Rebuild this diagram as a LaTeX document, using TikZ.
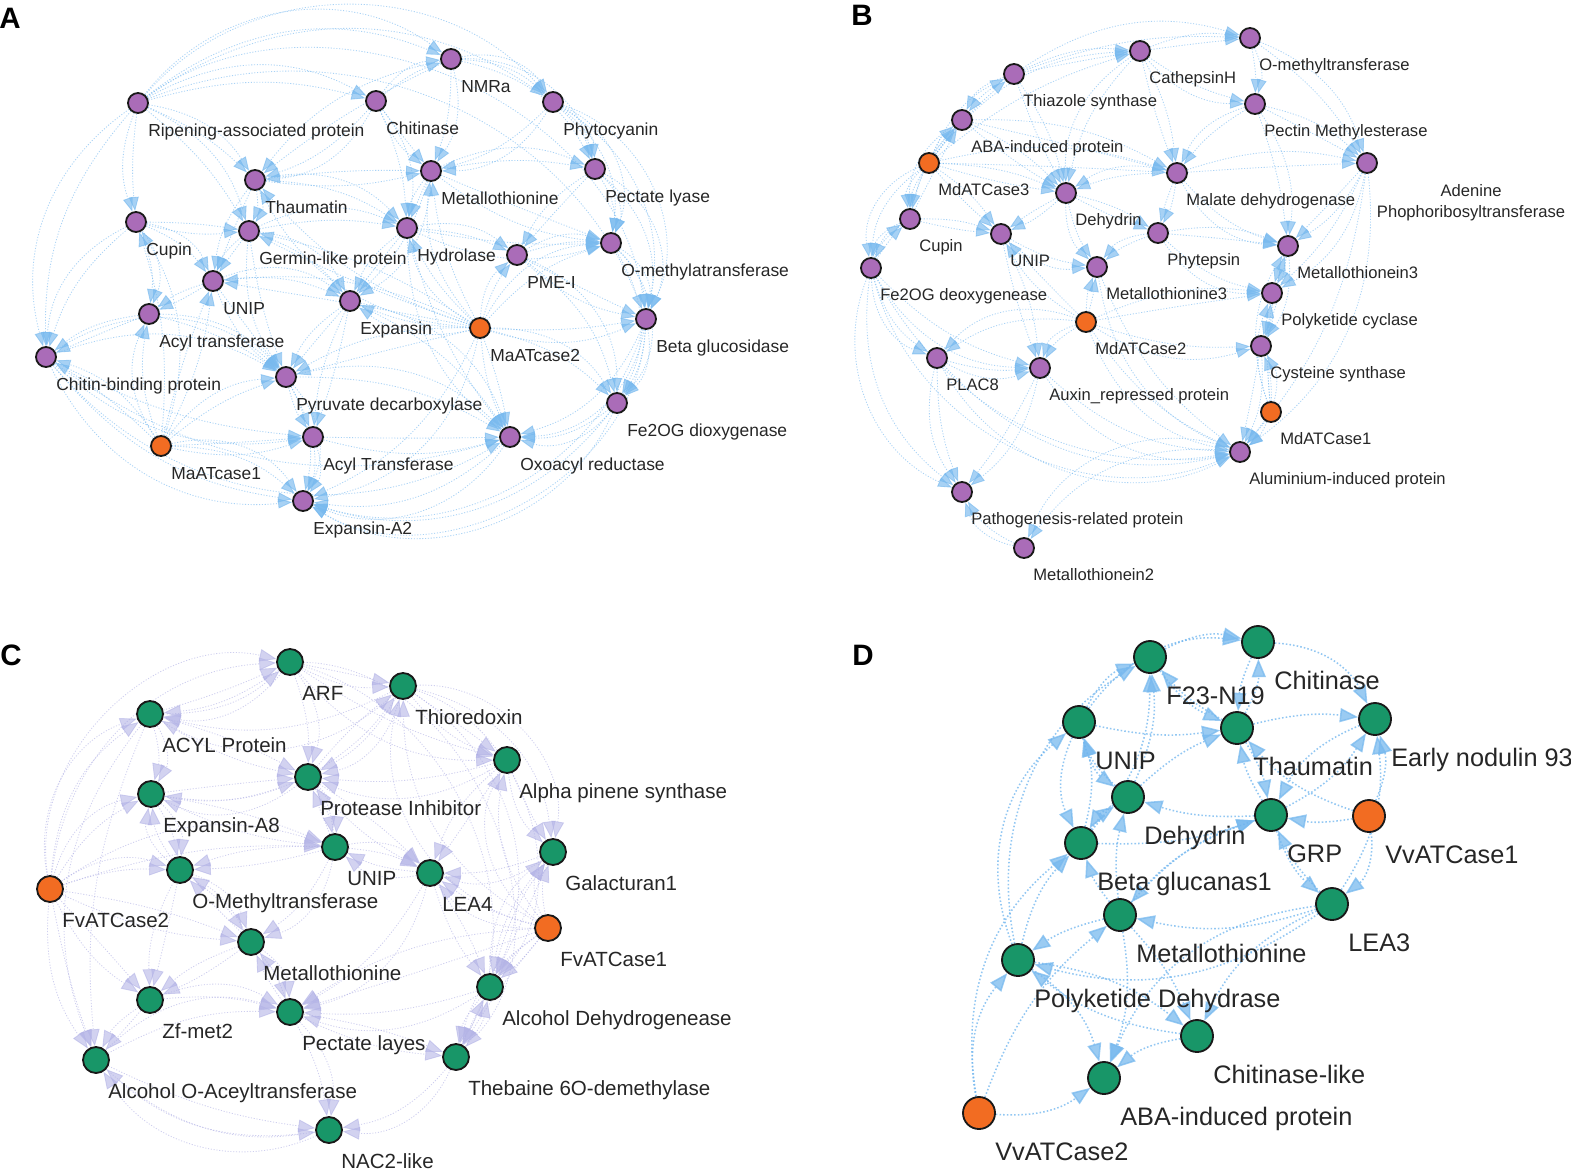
\documentclass[tikz,border=0pt]{standalone}
\usepackage{fontspec}
\setmainfont{Liberation Sans}
\usetikzlibrary{arrows.meta}
\definecolor{genepurple}{RGB}{170,108,184}
\definecolor{genegreen}{RGB}{24,150,104}
\definecolor{geneorange}{RGB}{242,108,34}
\definecolor{edgeblue}{RGB}{125,188,240}
\definecolor{tipblue}{RGB}{120,185,238}
\definecolor{edgelilac}{RGB}{175,175,228}
\definecolor{tiplilac}{RGB}{180,180,230}
\definecolor{edgeblueD}{RGB}{110,180,238}
\tikzset{
    gene/.style={circle, draw=black!90, line width=1.3pt, inner sep=0pt},
    geneA/.style={gene, minimum size=0.5cm, fill=genepurple},
    atA/.style={geneA, fill=geneorange},
    geneC/.style={gene, minimum size=0.65cm, fill=genegreen},
    atC/.style={geneC, fill=geneorange},
    geneD/.style={gene, minimum size=0.8cm, fill=genegreen},
    atD/.style={geneD, fill=geneorange},
    lblA/.style={font=\fontsize{12.4}{14}\selectfont, text=black!85, inner sep=0pt, anchor=base west, xshift=0.25cm, yshift=-0.575cm},
    lblB/.style={font=\fontsize{11.8}{14.9}\selectfont, text=black!85, inner sep=0pt, anchor=base west, xshift=0.225cm, yshift=-0.55cm},
    lblBtwo/.style={font=\fontsize{11.8}{14.9}\selectfont, text=black!85, inner sep=0pt, anchor=north, align=center, xshift=2.6cm, yshift=-0.25cm},
    lblC/.style={font=\fontsize{14.6}{17}\selectfont, text=black!85, inner sep=0pt, anchor=base west, xshift=0.3cm, yshift=-0.625cm},
    lblD/.style={font=\fontsize{18}{21}\selectfont, text=black!85, inner sep=0pt, anchor=base west, xshift=0.4cm, yshift=-0.775cm},
    panel/.style={font=\fontsize{21}{21}\selectfont\bfseries, inner sep=0pt},
    edgeA/.style={draw=edgeblue, opacity=0.65, line width=0.6pt, dash pattern=on 0.8pt off 1.2pt, -{Triangle[width=7pt, length=10pt, color=tipblue]}},
    edgeC/.style={draw=edgelilac, opacity=0.6, line width=0.6pt, dash pattern=on 0.8pt off 1.2pt, -{Triangle[width=9pt, length=12pt, color=tiplilac]}},
    edgeD/.style={draw=edgeblueD, opacity=0.75, line width=1.1pt, dash pattern=on 1.1pt off 1.5pt, -{Triangle[width=10pt, length=13pt, color=tipblue]}}
}
\pgfdeclarelayer{edges}
\pgfsetlayers{edges,main}

\begin{document}
\begin{tikzpicture}[x=0.025cm, y=-0.025cm]
    \useasboundingbox (0,0) rectangle (1571,1172);

    % Panel A: banana network
    \node[panel] (pA) at (10,18) {A};
    \node[geneA, label={[lblA]below:Ripening-associated protein}] (A_rip) at (138,103) {};
    \node[geneA, label={[lblA]below:Chitinase}] (A_chit) at (376,101) {};
    \node[geneA, label={[lblA]below:NMRa}] (A_nmr) at (451,59) {};
    \node[geneA, label={[lblA]below:Phytocyanin}] (A_phyto) at (553,102) {};
    \node[geneA, label={[lblA]below:Thaumatin}] (A_thau) at (255,180) {};
    \node[geneA, label={[lblA]below:Metallothionine}] (A_metal) at (431,171) {};
    \node[geneA, label={[lblA]below:Pectate lyase}] (A_pect) at (595,169) {};
    \node[geneA, label={[lblA]below:Cupin}] (A_cupin) at (136,222) {};
    \node[geneA, label={[lblA]below:Germin-like protein}] (A_germ) at (249,231) {};
    \node[geneA, label={[lblA]below:Hydrolase}] (A_hydro) at (407,228) {};
    \node[geneA, label={[lblA]below:PME-I}] (A_pme) at (517,255) {};
    \node[geneA, label={[lblA]below:O-methylatransferase}] (A_omt) at (611,243) {};
    \node[geneA, label={[lblA]below:UNIP}] (A_unip) at (213,281) {};
    \node[geneA, label={[lblA]below:Acyl transferase}] (A_acyl) at (149,314) {};
    \node[geneA, label={[lblA]below:Expansin}] (A_exp) at (350,301) {};
    \node[atA, label={[lblA]below:MaATcase2}] (A_at2) at (480,328) {};
    \node[geneA, label={[lblA]below:Beta glucosidase}] (A_bglu) at (646,319) {};
    \node[geneA, label={[lblA]below:Chitin-binding protein}] (A_cbp) at (46,357) {};
    \node[geneA, label={[lblA]below:Pyruvate decarboxylase}] (A_pyr) at (286,377) {};
    \node[geneA, label={[lblA]below:Fe2OG dioxygenase}] (A_fe2og) at (617,403) {};
    \node[atA, label={[lblA]below:MaATcase1}] (A_at1) at (161,446) {};
    \node[geneA, label={[lblA]below:Acyl Transferase}] (A_acylT) at (313,437) {};
    \node[geneA, label={[lblA]below:Oxoacyl reductase}] (A_oxo) at (510,437) {};
    \node[geneA, label={[lblA]below:Expansin-A2}] (A_expA2) at (303,501) {};

    % Panel B: apple network
    \node[panel] (pB) at (862,15) {B};
    \node[geneA, label={[lblB]below:O-methyltransferase}] (B_omt) at (1250,38) {};
    \node[geneA, label={[lblB]below:CathepsinH}] (B_cath) at (1140,51) {};
    \node[geneA, label={[lblB]below:Thiazole synthase}] (B_thia) at (1014,74) {};
    \node[geneA, label={[lblB]below:Pectin Methylesterase}] (B_pme) at (1255,104) {};
    \node[geneA, label={[lblB]below:ABA-induced protein}] (B_aba) at (962,120) {};
    \node[geneA, label={[lblBtwo]below:Adenine\\Phophoribosyltransferase}] (B_apt) at (1367,163) {};
    \node[atA, label={[lblB]below:MdATCase3}] (B_at3) at (929,163) {};
    \node[geneA, label={[lblB]below:Malate dehydrogenase}] (B_mdh) at (1177,173) {};
    \node[geneA, label={[lblB]below:Dehydrin}] (B_dhn) at (1066,193) {};
    \node[geneA, label={[lblB]below:Cupin}] (B_cupin) at (910,219) {};
    \node[geneA, label={[lblB]below:UNIP}] (B_unip) at (1001,234) {};
    \node[geneA, label={[lblB]below:Phytepsin}] (B_phyt) at (1158,233) {};
    \node[geneA, label={[lblB]below:Metallothionein3}] (B_mt3) at (1288,246) {};
    \node[geneA, label={[lblB]below:Fe2OG deoxygenease}] (B_fe2og) at (871,268) {};
    \node[geneA, label={[lblB]below:Metallothionine3}] (B_mtn3) at (1097,267) {};
    \node[geneA, label={[lblB]below:Polyketide cyclase}] (B_pkc) at (1272,293) {};
    \node[atA, label={[lblB]below:MdATCase2}] (B_at2) at (1086,322) {};
    \node[geneA, label={[lblB]below:Cysteine synthase}] (B_cys) at (1261,346) {};
    \node[geneA, label={[lblB]below:PLAC8}] (B_plac) at (937,358) {};
    \node[geneA, label={[lblB]below:Auxin\_repressed protein}] (B_aux) at (1040,368) {};
    \node[atA, label={[lblB]below:MdATCase1}] (B_at1) at (1271,412) {};
    \node[geneA, label={[lblB]below:Aluminium-induced protein}] (B_alu) at (1240,452) {};
    \node[geneA, label={[lblB]below:Pathogenesis-related protein}] (B_path) at (962,492) {};
    \node[geneA, label={[lblB]below:Metallothionein2}] (B_mt2) at (1024,548) {};

    % Panel C: strawberry network
    \node[panel] (pC) at (11,655) {C};
    \node[geneC, label={[lblC]below:ARF}] (C_arf) at (290,662) {};
    \node[geneC, label={[lblC]below:Thioredoxin}] (C_thio) at (403,686) {};
    \node[geneC, label={[lblC]below:ACYL Protein}] (C_acyl) at (150,714) {};
    \node[geneC, label={[lblC]below:Alpha pinene synthase}] (C_aps) at (507,760) {};
    \node[geneC, label={[lblC]below:Protease Inhibitor}] (C_pi) at (308,777) {};
    \node[geneC, label={[lblC]below:Expansin-A8}] (C_expA8) at (151,794) {};
    \node[geneC, label={[lblC]below:UNIP}] (C_unip) at (335,847) {};
    \node[geneC, label={[lblC]below:Galacturan1}] (C_gal) at (553,852) {};
    \node[geneC, label={[lblC]below:O-Methyltransferase}] (C_omt) at (180,870) {};
    \node[geneC, label={[lblC]below:LEA4}] (C_lea4) at (430,873) {};
    \node[atC, label={[lblC]below:FvATCase2}] (C_at2) at (50,889) {};
    \node[atC, label={[lblC]below:FvATCase1}] (C_at1) at (548,928) {};
    \node[geneC, label={[lblC]below:Metallothionine}] (C_mtn) at (251,942) {};
    \node[geneC, label={[lblC]below:Alcohol Dehydrogenease}] (C_adh) at (490,987) {};
    \node[geneC, label={[lblC]below:Zf-met2}] (C_zf) at (150,1000) {};
    \node[geneC, label={[lblC]below:Pectate layes}] (C_pl) at (290,1012) {};
    \node[geneC, label={[lblC]below:Alcohol O-Aceyltransferase}] (C_aat) at (96,1060) {};
    \node[geneC, label={[lblC]below:Thebaine 6O-demethylase}] (C_t6o) at (456,1057) {};
    \node[geneC, label={[lblC]below:NAC2-like}] (C_nac) at (329,1130) {};

    % Panel D: grape network
    \node[panel] (pD) at (863,655) {D};
    \node[geneD, label={[lblD]below:Chitinase}] (D_chit) at (1258,642) {};
    \node[geneD, label={[lblD]below:F23-N19}] (D_f23) at (1150,657) {};
    \node[geneD, label={[lblD]below:UNIP}] (D_unip) at (1079,722) {};
    \node[geneD, label={[lblD]below:Thaumatin}] (D_thau) at (1237,728) {};
    \node[geneD, label={[lblD]below:Early nodulin 93}] (D_en93) at (1375,719) {};
    \node[geneD, label={[lblD]below:Dehydrin}] (D_dhn) at (1128,797) {};
    \node[geneD, label={[lblD]below:GRP}] (D_grp) at (1271,815) {};
    \node[atD, label={[lblD]below:VvATCase1}] (D_at1) at (1369,816) {};
    \node[geneD, label={[lblD]below:Beta glucanas1}] (D_bg1) at (1081,843) {};
    \node[geneD, label={[lblD]below:LEA3}] (D_lea3) at (1332,904) {};
    \node[geneD, label={[lblD]below:Metallothionine}] (D_mtn) at (1120,915) {};
    \node[geneD, label={[lblD]below:Polyketide Dehydrase}] (D_pkd) at (1018,960) {};
    \node[geneD, label={[lblD]below:Chitinase-like}] (D_chl) at (1197,1036) {};
    \node[geneD, label={[lblD]below:ABA-induced protein}] (D_aba) at (1104,1078) {};
    \node[atD, label={[lblD]below:VvATCase2}] (D_at2) at (979,1113) {};

    % Interactions, drawn under the genes (two curves per pair in A, B and C)
    \begin{pgfonlayer}{edges}
    \foreach \s/\t/\b in {A_at2/A_thau/15, A_at2/A_metal/10, A_at2/A_germ/-10, A_at2/A_hydro/10, A_at2/A_pyr/-15, A_at2/A_exp/10, A_at2/A_bglu/-20, A_at2/A_omt/15, A_at2/A_oxo/-10, A_at2/A_fe2og/15, A_at2/A_pme/10, A_at2/A_expA2/20, A_at2/A_unip/-15,
        A_at1/A_cbp/-20, A_at1/A_acyl/15, A_at1/A_expA2/20, A_at1/A_pyr/10, A_at1/A_unip/-10, A_at1/A_cupin/-25, A_at1/A_acylT/-15,
        A_rip/A_thau/10, A_rip/A_chit/15, A_rip/A_nmr/30, A_rip/A_cupin/-20, A_rip/A_cbp/-35, A_rip/A_bglu/45, A_rip/A_phyto/35, A_rip/A_germ/10,
        A_chit/A_nmr/10, A_chit/A_metal/-15, A_chit/A_thau/15, A_chit/A_hydro/10,
        A_nmr/A_phyto/20, A_nmr/A_metal/10, A_nmr/A_pect/25, A_nmr/A_thau/-20,
        A_phyto/A_pect/15, A_phyto/A_omt/30, A_phyto/A_metal/15, A_phyto/A_bglu/35,
        A_thau/A_germ/15, A_thau/A_metal/-10, A_thau/A_hydro/15, A_thau/A_unip/-15,
        A_metal/A_hydro/-15, A_metal/A_pect/10, A_metal/A_omt/-15, A_metal/A_exp/15,
        A_pect/A_omt/20, A_pect/A_bglu/30, A_pect/A_pme/-15,
        A_cupin/A_unip/15, A_cupin/A_germ/-10, A_cupin/A_cbp/-30, A_cupin/A_acyl/15,
        A_germ/A_hydro/10, A_germ/A_unip/-15, A_germ/A_exp/15, A_germ/A_pyr/-20,
        A_hydro/A_pme/10, A_hydro/A_exp/-15, A_hydro/A_omt/-20, A_hydro/A_oxo/-25,
        A_pme/A_omt/10, A_pme/A_bglu/-15, A_pme/A_fe2og/20,
        A_omt/A_bglu/20, A_bglu/A_fe2og/15, A_omt/A_fe2og/30,
        A_unip/A_acyl/-10, A_unip/A_exp/15, A_unip/A_pyr/-15,
        A_acyl/A_cbp/-15, A_acyl/A_pyr/10,
        A_exp/A_pyr/-15, A_exp/A_oxo/15, A_exp/A_acylT/-10,
        A_cbp/A_pyr/25, A_cbp/A_expA2/-35, A_cbp/A_oxo/-40, A_cbp/A_acylT/-25,
        A_pyr/A_acylT/-10, A_pyr/A_oxo/15, A_pyr/A_expA2/20,
        A_acylT/A_expA2/15, A_acylT/A_oxo/-15,
        A_fe2og/A_oxo/20, A_fe2og/A_expA2/35, A_oxo/A_expA2/25,
        A_bglu/A_oxo/25, A_bglu/A_expA2/45}
    {
        \pgfmathtruncatemacro\bb{\b+14}
        \draw[edgeA] (\s) to[bend left=\b] (\t);
        \draw[edgeA] (\s) to[bend left=\bb] (\t);
    }
    \foreach \s/\t/\b in {B_at3/B_aba/15, B_at3/B_thia/20, B_at3/B_cupin/-15, B_at3/B_dhn/10, B_at3/B_fe2og/-25, B_at3/B_unip/10, B_at3/B_cath/25, B_at3/B_mdh/15,
        B_at2/B_mtn3/10, B_at2/B_aux/-15, B_at2/B_unip/15, B_at2/B_cys/-10, B_at2/B_pkc/15, B_at2/B_plac/-20, B_at2/B_alu/-15,
        B_at1/B_alu/15, B_at1/B_cys/-10, B_at1/B_pkc/20, B_at1/B_mt3/25,
        B_thia/B_cath/15, B_thia/B_aba/-10, B_thia/B_dhn/10, B_thia/B_omt/25,
        B_cath/B_omt/15, B_cath/B_pme/-10, B_cath/B_mdh/10, B_cath/B_dhn/-15,
        B_omt/B_pme/20, B_omt/B_apt/25, B_pme/B_apt/15, B_pme/B_mdh/-10, B_pme/B_mt3/20,
        B_aba/B_cupin/-15, B_aba/B_dhn/10, B_aba/B_mdh/15,
        B_mdh/B_phyt/10, B_mdh/B_mt3/-15, B_mdh/B_dhn/-10, B_mdh/B_apt/15,
        B_dhn/B_unip/10, B_dhn/B_mtn3/-10, B_dhn/B_phyt/10,
        B_cupin/B_fe2og/-15, B_cupin/B_unip/10, B_cupin/B_aba/15,
        B_unip/B_mtn3/-10, B_unip/B_aux/10,
        B_phyt/B_mt3/15, B_phyt/B_mtn3/-10, B_phyt/B_pkc/-15,
        B_apt/B_mt3/15, B_apt/B_pkc/25, B_apt/B_alu/30,
        B_mt3/B_pkc/10, B_pkc/B_cys/15, B_cys/B_alu/15, B_mt3/B_cys/20,
        B_fe2og/B_plac/-20, B_fe2og/B_aux/-15, B_fe2og/B_alu/-35, B_fe2og/B_cupin/20,
        B_plac/B_aux/-10, B_plac/B_alu/-30, B_aux/B_alu/-20, B_mtn3/B_alu/-15,
        B_aux/B_path/20, B_plac/B_path/-10, B_alu/B_mt2/-30, B_mt2/B_path/30, B_fe2og/B_path/-30}
    {
        \pgfmathtruncatemacro\bb{\b-14}
        \draw[edgeA] (\s) to[bend left=\b] (\t);
        \draw[edgeA] (\s) to[bend left=\bb] (\t);
    }
    \foreach \s/\t/\b in {C_at2/C_acyl/25, C_at2/C_expA8/15, C_at2/C_omt/10, C_at2/C_zf/-15, C_at2/C_aat/-20, C_at2/C_arf/40, C_at2/C_mtn/-10, C_at2/C_unip/10,
        C_at1/C_gal/15, C_at1/C_adh/-10, C_at1/C_lea4/10, C_at1/C_t6o/-20, C_at1/C_aps/25, C_at1/C_thio/30, C_at1/C_pl/-15,
        C_arf/C_thio/-15, C_arf/C_acyl/15, C_arf/C_pi/10, C_arf/C_aps/-25,
        C_thio/C_aps/-15, C_thio/C_pi/15, C_thio/C_acyl/20, C_thio/C_gal/35,
        C_acyl/C_expA8/15, C_acyl/C_pi/-10, C_acyl/C_arf/-20,
        C_aps/C_gal/-20, C_aps/C_pi/10, C_aps/C_lea4/-15,
        C_pi/C_unip/10, C_pi/C_expA8/15, C_pi/C_lea4/-10, C_pi/C_thio/-10,
        C_expA8/C_omt/10, C_expA8/C_unip/-10, C_expA8/C_pi/-15,
        C_unip/C_lea4/10, C_unip/C_omt/-10, C_unip/C_mtn/15, C_unip/C_pi/-15,
        C_gal/C_adh/-15, C_gal/C_lea4/10,
        C_omt/C_mtn/10, C_omt/C_zf/-15, C_omt/C_expA8/15,
        C_lea4/C_adh/-10, C_lea4/C_pl/15, C_lea4/C_unip/10,
        C_mtn/C_pl/10, C_mtn/C_zf/-10, C_mtn/C_omt/-15,
        C_adh/C_t6o/-15, C_adh/C_pl/10, C_adh/C_gal/10,
        C_zf/C_aat/-15, C_zf/C_pl/10,
        C_pl/C_nac/10, C_pl/C_t6o/-10, C_pl/C_mtn/-10,
        C_aat/C_nac/-25, C_t6o/C_nac/20, C_aat/C_pl/15, C_t6o/C_adh/-15,
        C_thio/C_adh/40, C_acyl/C_aat/-30, C_nac/C_aat/25, C_arf/C_t6o/50}
    {
        \pgfmathtruncatemacro\bb{\b+16}
        \draw[edgeC] (\s) to[bend left=\b] (\t);
        \draw[edgeC] (\s) to[bend left=\bb] (\t);
    }
    \foreach \s/\t/\b in {D_f23/D_chit/20, D_unip/D_f23/20, D_thau/D_f23/10, D_thau/D_chit/-15, D_unip/D_chit/30,
        D_dhn/D_thau/10, D_dhn/D_unip/15, D_dhn/D_f23/-15, D_grp/D_thau/10, D_at1/D_grp/10, D_at1/D_lea3/30, D_at1/D_thau/15, D_at1/D_en93/-20,
        D_grp/D_en93/-15, D_thau/D_en93/10, D_unip/D_thau/-10, D_chit/D_en93/30,
        D_bg1/D_unip/-15, D_bg1/D_dhn/10, D_grp/D_dhn/10, D_grp/D_lea3/-15, D_bg1/D_grp/-10,
        D_lea3/D_mtn/15, D_lea3/D_chl/-20, D_lea3/D_pkd/25, D_lea3/D_grp/10, D_lea3/D_en93/-20,
        D_mtn/D_pkd/-10, D_mtn/D_bg1/10, D_mtn/D_aba/15, D_mtn/D_grp/15,
        D_pkd/D_unip/35, D_pkd/D_aba/20, D_pkd/D_chl/15, D_chl/D_aba/-15, D_pkd/D_f23/35,
        D_at2/D_pkd/25, D_at2/D_aba/-20, D_at2/D_mtn/15, D_at2/D_bg1/30,
        D_unip/D_bg1/-25, D_chl/D_pkd/15, D_mtn/D_chl/10, D_grp/D_mtn/-15,
        D_bg1/D_f23/-20, D_dhn/D_bg1/-15, D_thau/D_grp/10, D_en93/D_grp/-20, D_chit/D_thau/-10,
        D_lea3/D_aba/-30, D_pkd/D_bg1/15, D_unip/D_dhn/-20, D_f23/D_thau/-15, D_mtn/D_dhn/10}
        \draw[edgeD] (\s) to[bend left=\b] (\t);
    \end{pgfonlayer}
\end{tikzpicture}
\end{document}
